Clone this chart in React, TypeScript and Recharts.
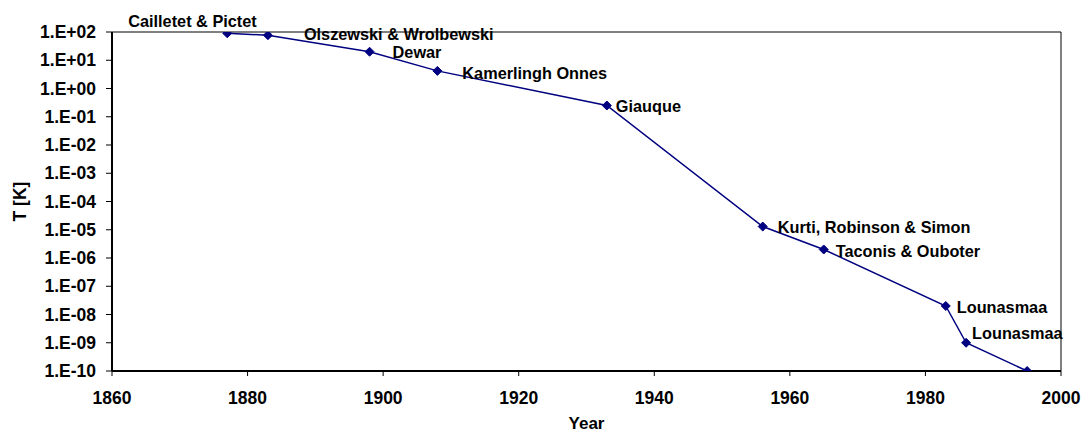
import { LineChart, Line, XAxis, YAxis, ReferenceLine, LabelList } from 'recharts';

// records of lowest temperature reached
const years = [1877, 1883, 1898, 1908, 1933, 1956, 1965, 1983, 1986, 1995];
const temps = [90, 77, 20, 4.2, 0.25, 1.3e-5, 2e-6, 2e-8, 1e-9, 1e-10];
const names = [
  'Cailletet & Pictet',
  'Olszewski & Wrolbewski',
  'Dewar',
  'Kamerlingh Onnes',
  'Giauque',
  'Kurti, Robinson & Simon',
  'Taconis & Ouboter',
  'Lounasmaa',
  'Lounasmaa',
  '',
];
const yearTicks = [1860, 1880, 1900, 1920, 1940, 1960, 1980, 2000];
const tempTicks = [1e-10, 1e-9, 1e-8, 1e-7, 1e-6, 1e-5, 1e-4, 1e-3, 1e-2, 1e-1, 1, 10, 100];

// label nudges (text start / vertical centre relative to the point)
const labelShift = [
  [-99, -12],
  [36, -1],
  [23, 0],
  [25, 2],
  [9, 0],
  [15, 0],
  [12, 2],
  [11, 1],
  [6, -10],
  [0, 0],
];

const data = years.map((year, i) => ({ year, temp: temps[i], name: names[i] }));

const FONT = 'Arial, "Liberation Sans", sans-serif';
const NAVY = '#000080';

const fmtExp = (v: number) => {
  const e = Math.round(Math.log10(v));
  const sign = e < 0 ? '-' : '+';
  return `1.E${sign}${String(Math.abs(e)).padStart(2, '0')}`;
};

const Diamond = (props: any) => {
  const { cx, cy } = props;
  if (cx == null || cy == null) return null;
  const r = 4.5;
  return (
    <polygon
      points={`${cx},${cy - r} ${cx + r},${cy} ${cx},${cy + r} ${cx - r},${cy}`}
      fill={NAVY}
      stroke={NAVY}
    />
  );
};

const renderLabel = (props: any) => {
  const { x, y, index, value } = props;
  if (!value) return null;
  const [dx, dy] = labelShift[index] || [10, 0];
  return (
    <text
      x={x + dx}
      y={y + dy}
      dominantBaseline="central"
      fontFamily={FONT}
      fontWeight="bold"
      fontSize={16.3}
      fill="#000"
    >
      {value}
    </text>
  );
};

export default function App() {
  return (
    <div style={{ position: 'absolute', left: 0, top: 0, width: 1082, height: 434, background: '#fff' }}>
      <LineChart width={1082} height={434} data={data} margin={{ top: 32, right: 21, left: 12, bottom: 33 }}>
        <XAxis
          dataKey="year"
          type="number"
          domain={[1860, 2000]}
          ticks={yearTicks}
          axisLine={{ stroke: '#000', strokeWidth: 2 }}
          tickLine={{ stroke: '#000' }}
          tickSize={5}
          tick={{ fill: '#000', fontSize: 17.5, fontWeight: 'bold', fontFamily: FONT, dy: 14 }}
          height={30}
          label={{
            value: 'Year',
            position: 'insideBottom',
            offset: -28,
            style: { fill: '#000', fontSize: 17, fontWeight: 'bold', fontFamily: FONT },
          }}
        />
        <YAxis
          dataKey="temp"
          scale="log"
          domain={[1e-10, 100]}
          allowDataOverflow
          ticks={tempTicks}
          tickFormatter={fmtExp}
          axisLine={{ stroke: '#000', strokeWidth: 2 }}
          tickLine={{ stroke: '#000' }}
          tickSize={6}
          tick={{ fill: '#000', fontSize: 17.5, fontWeight: 'bold', fontFamily: FONT, dx: -8 }}
          width={100}
          interval={0}
          label={{
            value: 'T [K]',
            angle: -90,
            position: 'insideLeft',
            offset: 8,
            style: { fill: '#000', fontSize: 17.5, fontWeight: 'bold', fontFamily: FONT, textAnchor: 'middle' },
          }}
        />
        <ReferenceLine y={100} stroke="#000" strokeWidth={1} ifOverflow="extendDomain" />
        <ReferenceLine x={2000} stroke="#000" strokeWidth={1} />
        <Line
          type="linear"
          dataKey="temp"
          stroke={NAVY}
          strokeWidth={1.5}
          dot={<Diamond />}
          activeDot={false}
          isAnimationActive={false}
        >
          <LabelList dataKey="name" content={renderLabel} />
        </Line>
      </LineChart>
    </div>
  );
}
